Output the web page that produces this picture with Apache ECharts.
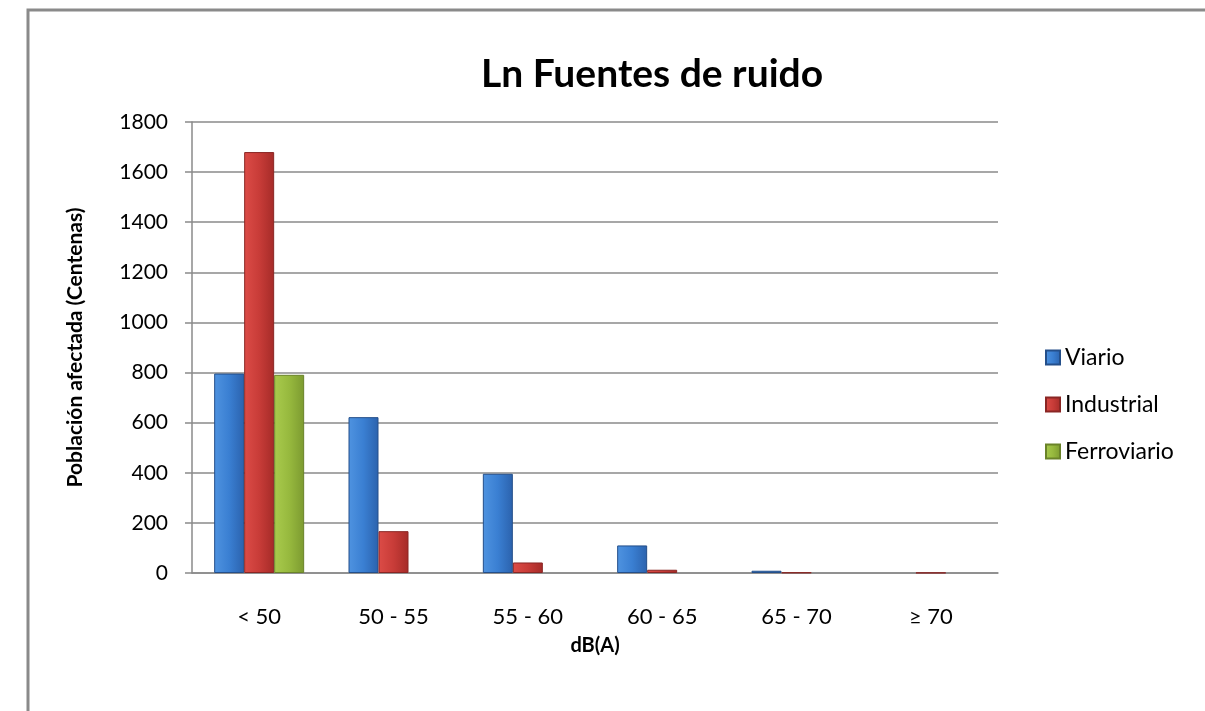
<!DOCTYPE html>
<html>
<head>
<meta charset="utf-8">
<script src="https://cdn.jsdelivr.net/npm/echarts@6/dist/echarts.min.js"></script>
<style>
  html, body { margin: 0; padding: 0; background: #fff; }
  #chart { width: 1205px; height: 711px; }
</style>
</head>
<body>
<div id="chart"></div>
<script>
const categories = ["< 50", "50 - 55", "55 - 60", "60 - 65", "65 - 70", "≥ 70"];
const viario = [796, 622, 396, 110, 9, 0];
const industrial = [1680, 167, 42, 13, 2, 1];
const ferroviario = [791, 0, 0, 0, 0, 0];

const font = "Lato, 'Open Sans', sans-serif";

// horizontal shading to fake the bevelled Excel bars
function shade(light, mid, dark) {
  return new echarts.graphic.LinearGradient(0, 0, 1, 0, [
    { offset: 0, color: light },
    { offset: 0.5, color: mid },
    { offset: 1, color: dark },
  ]);
}

function bar(name, data, fill, border) {
  return {
    name: name,
    type: "bar",
    // no outline on empty bars, otherwise a stray line sits on the axis
    data: data.map((v) => (v === 0 ? { value: v, itemStyle: { borderWidth: 0 } } : v)),
    barWidth: 30,
    barGap: "0%",
    itemStyle: { color: fill, borderColor: border, borderWidth: 1 },
  };
}

const chart = echarts.init(document.getElementById("chart"));
chart.setOption({
  animation: false,
  textStyle: { fontFamily: font },
  title: {
    text: "Ln Fuentes de ruido",
    left: 647,
    top: 50,
    textAlign: "center",
    textStyle: { fontSize: 39, fontWeight: "bold", color: "#000", fontFamily: font },
  },
  graphic: [
    {
      type: "rect",
      shape: { x: 28, y: 10, width: 1300, height: 800 },
      style: { fill: "none", stroke: "#8a8a8a", lineWidth: 3 },
      silent: true,
    },
  ],
  legend: {
    orient: "vertical",
    left: 1040,
    top: 341,
    itemWidth: 14,
    itemHeight: 14,
    itemGap: 24,
    icon: "rect",
    textStyle: { fontSize: 23, color: "#000", fontFamily: font },
    data: ["Viario", "Industrial", "Ferroviario"],
  },
  grid: { left: 192, right: 207, top: 122, bottom: 138, containLabel: false },
  xAxis: {
    type: "category",
    data: categories,
    name: "dB(A)",
    nameLocation: "middle",
    nameGap: 63,
    nameTextStyle: { fontSize: 20, fontWeight: "bold", color: "#000" },
    axisLine: { lineStyle: { color: "#8a8a8a", width: 1.5 } },
    axisTick: { show: false },
    axisLabel: { fontSize: 22, color: "#000", margin: 33 },
  },
  yAxis: {
    type: "value",
    min: 0,
    max: 1800,
    interval: 200,
    name: "Población afectada (Centenas)",
    nameLocation: "middle",
    nameGap: 106,
    nameTextStyle: { fontSize: 21, fontWeight: "bold", color: "#000" },
    axisLine: { show: true, lineStyle: { color: "#8a8a8a", width: 1.5 } },
    axisTick: { show: true, length: 7, lineStyle: { color: "#8a8a8a", width: 1.5 } },
    axisLabel: { fontSize: 21, color: "#000", margin: 24, formatter: (v) => String(v) },
    splitLine: { lineStyle: { color: "#8a8a8a", width: 1.5 } },
  },
  series: [
    bar("Viario", viario, shade("#4f93e0", "#3a7fd2", "#2b62ad"), "#244f8a"),
    bar("Industrial", industrial, shade("#dc4c47", "#c83c38", "#a52b28"), "#8a2624"),
    bar("Ferroviario", ferroviario, shade("#a9cb4d", "#97b93e", "#7c9a30"), "#6a8329"),
  ],
});
</script>
</body>
</html>
